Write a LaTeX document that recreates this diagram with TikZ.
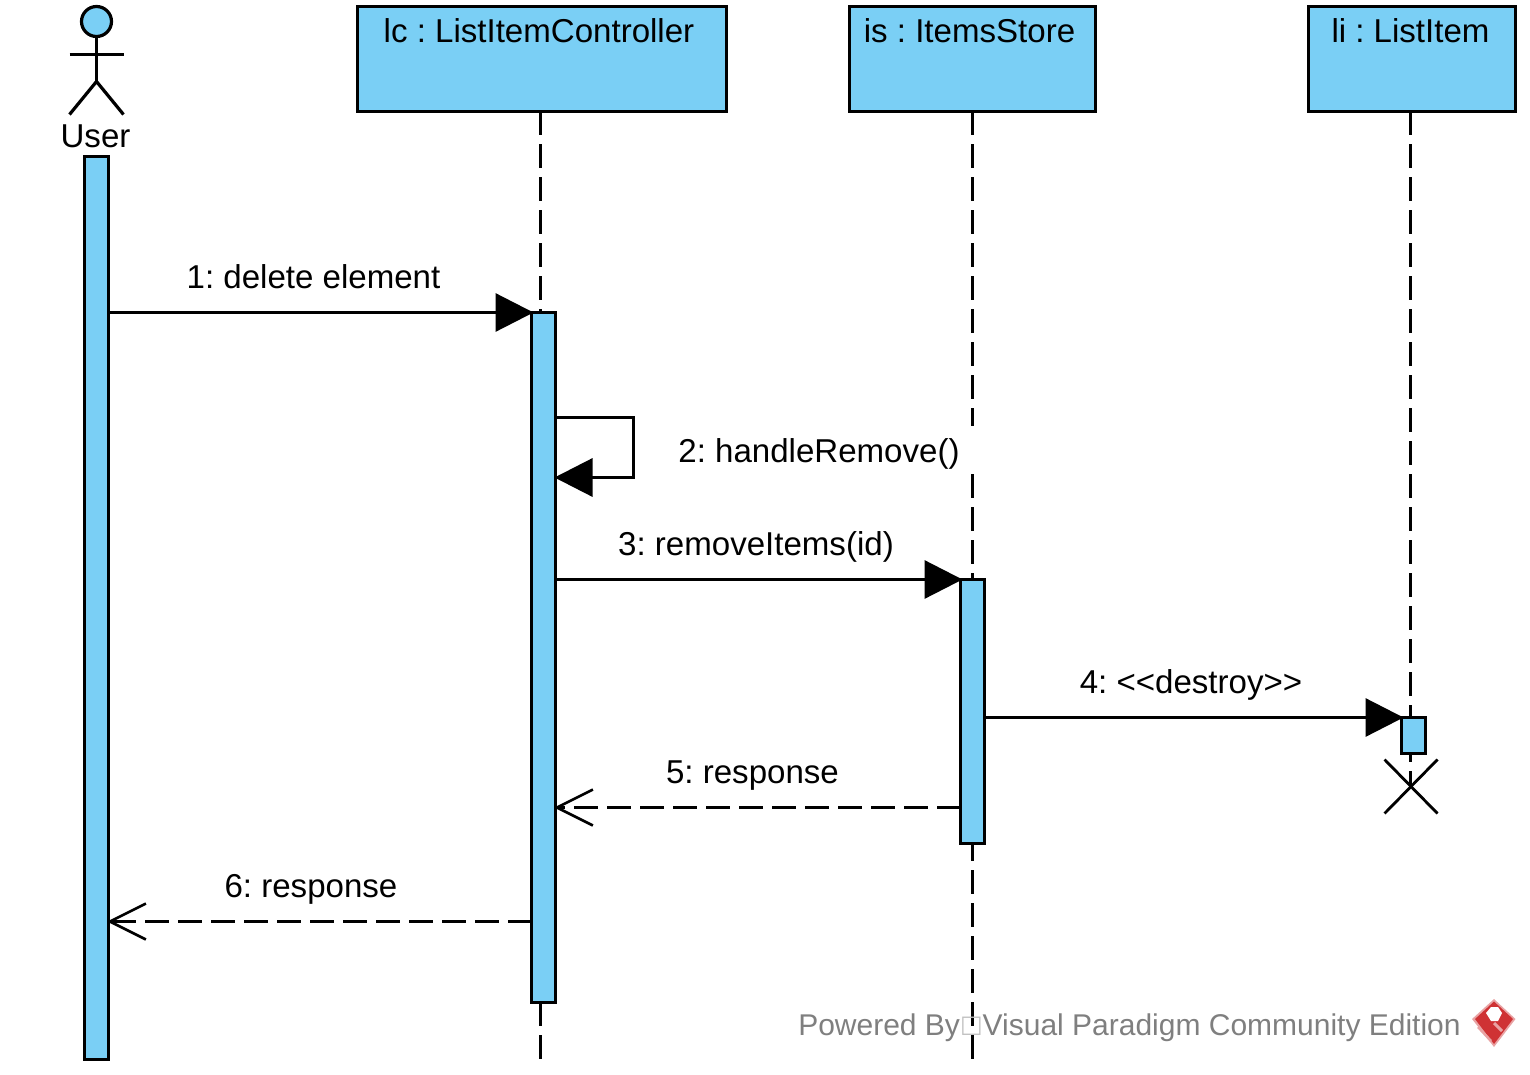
\documentclass[tikz,border=0pt]{standalone}
\usepackage{fontspec}
\setmainfont{Liberation Sans}
\newfontfamily\symfont{DejaVu Sans}
\usetikzlibrary{arrows.meta}
\frenchspacing
\def\u{0.75pt}
\definecolor{fillblue}{HTML}{7ACFF5}
\definecolor{logored}{HTML}{CF3234}
\definecolor{logopale}{HTML}{E9A3A4}
\definecolor{footgray}{HTML}{7F7F7F}
\tikzset{
  ln/.style={line width=3.2*\u,black},
  boxnode/.style={draw=black,fill=fillblue,line width=3.2*\u,inner sep=0pt,outer sep=0pt},
  txt/.style={font=\fontsize{24.8}{28}\selectfont,inner sep=0pt,anchor=base,text=black},
  life/.style={ln,dash pattern=on 24*\u off 9*\u},
  call/.style={ln,shorten >=-2*\u,-{Triangle[length=38*\u,width=38*\u]}},
  ret/.style={ln,dash pattern=on 24*\u off 9*\u,shorten >=-1.5*\u,-{Straight Barb[length=36*\u,width=36*\u,line width=2.6*\u]}},
}
\begin{document}
\begin{tikzpicture}[x=0.75pt,y=-0.75pt]
\useasboundingbox (0,0) rectangle (1530,1074);
% heads
\node[boxnode,minimum width=369*\u,minimum height=105*\u] (lc) at (542,58.8) {};
\node[boxnode,minimum width=246*\u,minimum height=105*\u] (is) at (972.5,58.8) {};
\node[boxnode,minimum width=207*\u,minimum height=105*\u] (li) at (1412,58.8) {};
\node[txt] (lct) at (539,42.5) {lc : ListItemController};
\node[txt] (ist) at (969.5,42.5) {is : ItemsStore};
\node[txt] (lit) at (1410.5,42.5) {li : ListItem};
% lifeline ends
\coordinate (lcend) at (540.5,1059.5);
\coordinate (isend) at (972.5,1059.5);
\coordinate (xc) at (1410.5,786.5);
\draw[life] (lc.south -| lcend) -- (lcend);
\draw[life] (is.south -| isend) -- (isend);
\draw[life] (li.south -| xc) -- (xc);
% actor
\node[circle,draw=black,fill=fillblue,line width=3.2*\u,minimum size=30*\u,inner sep=0pt,outer sep=0pt] (head) at (96.5,21.5) {};
\coordinate (hip) at (96.5,81.5);
\coordinate (armL) at (69.5,54.5);
\coordinate (armR) at (123.5,54.5);
\coordinate (footL) at (69.5,114.5);
\coordinate (footR) at (123.5,114.5);
\draw[ln] (head.south) -- (hip);
\draw[ln] (armL) -- (armR);
\draw[ln] (footL) -- (hip) -- (footR);
\node[txt] (usert) at (95.5,147) {User};
% activations
\node[boxnode,minimum width=24*\u,minimum height=903*\u] (ub) at (96.5,608) {};
\node[boxnode,minimum width=24*\u,minimum height=690*\u] (lb) at (543.5,657.5) {};
\node[boxnode,minimum width=24*\u,minimum height=264*\u] (ib) at (972.5,711.5) {};
\node[boxnode,minimum width=24*\u,minimum height=36*\u] (lib) at (1413.5,735.5) {};
% destroy
\coordinate (x1) at (1384.5,759.5);
\coordinate (x2) at (1437.5,813.5);
\coordinate (x3) at (1437.5,759.5);
\coordinate (x4) at (1384.5,813.5);
\draw[line width=2.8*\u] (x1) -- (x2);
\draw[line width=2.8*\u] (x3) -- (x4);
% messages
\draw[call] (ub.east |- lb.north) -- (lb.north west);
\coordinate (s1) at (633.5,417.5);
\coordinate (s2) at (633.5,477.5);
\draw[ln,line join=miter,shorten >=-1*\u,-{Triangle[length=38*\u,width=38*\u]}] (lb.east |- s1) -- (s1) -- (s2) -- (lb.east |- s2);
\draw[call] (lb.east |- ib.north) -- (ib.north west);
\draw[call] (ib.east |- lib.north) -- (lib.north west);
\coordinate (m5) at (972.5,807.5);
\coordinate (m6) at (540.5,921.5);
\draw[ret] (ib.west |- m5) -- (lb.east |- m5);
\draw[ret] (lb.west |- m6) -- (ub.east |- m6);
% labels
\fill[white] (672,426) rectangle (975,474);
\node[txt] (t1) at (313.5,288.5) {1: delete element};
\node[txt] (t2) at (819,462.5) {2: handleRemove()};
\node[txt] (t3) at (756,555) {3: removeItems(id)};
\node[txt] (t4) at (1191,693) {4: <{}<destroy>{}>};
\node[txt] (t5) at (752.5,783.5) {5: response};
\node[txt] (t6) at (311,897.5) {6: response};
% footer
\node[txt,font=\fontsize{22.5}{26}\selectfont,text=footgray,anchor=base west] (foot) at (798,1035.5) {Powered By{\symfont\fontsize{18}{18}\selectfont\raisebox{2.25pt}{\textcolor{black!25}{□}}}Visual Paradigm Community Edition};
% logo
\fill[logopale] (1494,999) -- (1515.5,1019) -- (1494,1047) -- (1472,1019) -- cycle;
\fill[logored] (1494,1001.5) -- (1513,1019) -- (1494,1044) -- (1475,1019) -- cycle;
\fill[white] (1491,1007) -- (1498,1007) -- (1502,1013) -- (1498,1021) -- (1491,1021) -- (1486,1013) -- cycle;
\draw[logopale,line width=3*\u] (1494,1023) -- (1502,1031);
\draw[logopale,line width=2.5*\u] (1478,1027) -- (1491,1041);
\end{tikzpicture}
\end{document}
